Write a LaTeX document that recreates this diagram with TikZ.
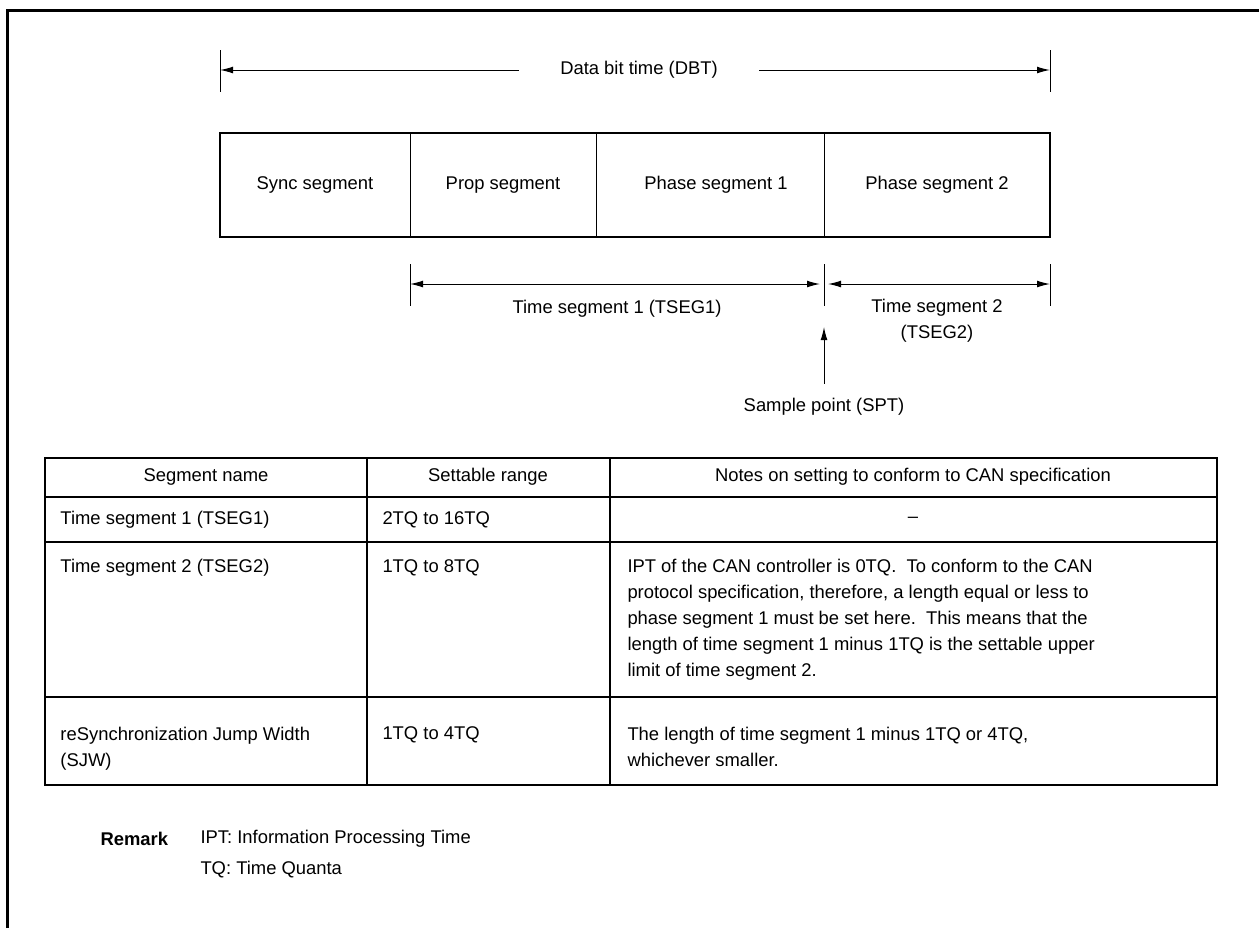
\documentclass[tikz,border=0pt]{standalone}
\usepackage{fontspec}
\setmainfont{Liberation Sans}
\usetikzlibrary{arrows.meta}
\begin{document}
\begin{tikzpicture}[x=0.5pt, y=-0.5pt, line width=0.5pt,
  every node/.style={font=\fontsize{9.2}{13}\selectfont, inner sep=0pt},
  dimline/.style={-{Latex[length=6.5pt,width=3.4pt]}},
  dimboth/.style={{Latex[length=6.5pt,width=3.4pt]}-{Latex[length=6.5pt,width=3.4pt]}},
  cell/.style={anchor=west, align=left}]
\useasboundingbox (0,0) rectangle (1259,928);
\draw[line width=1.5pt] (7,928) -- (7,10) -- (1259,10);
% data bit time
\coordinate (dbtL) at (220,70); \coordinate (dbtR) at (1050,70);
\draw (220,50) -- (220,92); \draw (1050,50) -- (1050,92);
\node[fill=white, inner xsep=20.5pt, inner ysep=2pt] (dbt) at (639,70) {Data bit time (DBT)};
\draw[dimline] (dbt) -- (dbtL);
\draw[dimline] (dbt) -- (dbtR);
% segments
\draw[line width=1.1pt] (220,133) rectangle (1050,237);
\draw (410,133) -- (410,237);
\draw (596,133) -- (596,237);
\draw (824,133) -- (824,237);
\node (sync) at (315,185) {Sync segment};
\node (prop) at (503,185) {Prop segment};
\node (ph1) at (716,185) {Phase segment 1};
\node (ph2) at (937,185) {Phase segment 2};
% time segments
\coordinate (t1L) at (410,284); \coordinate (t1R) at (824,284); \coordinate (t2R) at (1050,284);
\draw (410,264) -- (410,306); \draw (824,264) -- (824,306); \draw (1050,264) -- (1050,306);
\draw[dimboth, shorten >=2pt] (t1L) -- (t1R);
\draw[dimboth, shorten <=2pt] (t1R) -- (t2R);
\node (tseg1) at (617,309) {Time segment 1 (TSEG1)};
\node[align=center] (tseg2) at (937,321) {Time segment 2\\(TSEG2)};
% sample point
\coordinate (spt) at (824,327);
\node (sptlbl) at (824,407) {Sample point (SPT)};
\draw[dimline] ([yshift=7pt]sptlbl.north) -- (spt);
% table
\draw[line width=1.3pt] (45,458) rectangle (1217,785);
\draw[line width=1.3pt] (45,497) -- (1217,497);
\draw[line width=1pt] (45,542) -- (1217,542);
\draw[line width=1pt] (45,697) -- (1217,697);
\draw[line width=1pt] (367,458) -- (367,785);
\draw[line width=1pt] (610,458) -- (610,785);
\node (h1) at (206,477) {Segment name};
\node (h2) at (488,477) {Settable range};
\node (h3) at (913,477) {Notes on setting to conform to CAN specification};
\node[cell] (n1) at (60,520) {Time segment 1 (TSEG1)};
\node[cell] (r1) at (382,520) {2TQ to 16TQ};
\node (c1) at (913,520) {--};
\node[cell] (n2) at (60,568) {Time segment 2 (TSEG2)};
\node[cell] (r2) at (382,568) {1TQ to 8TQ};
\node[cell, anchor=north west] (c2) at (627,559) {IPT of the CAN controller is 0TQ.\ \ To conform to the CAN\\protocol specification, therefore, a length equal or less to\\phase segment 1 must be set here.\ \ This means that the\\length of time segment 1 minus 1TQ is the settable upper\\limit of time segment 2.};
\node[cell, anchor=north west] (n3) at (60,727) {reSynchronization Jump Width\\(SJW)};
\node[cell] (r3) at (382,735) {1TQ to 4TQ};
\node[cell, anchor=north west] (c3) at (627,727) {The length of time segment 1 minus 1TQ or 4TQ,\\whichever smaller.};
% remark
\node[anchor=west, font=\fontsize{9.2}{13}\selectfont\bfseries] (rem) at (100,839) {Remark};
\node[anchor=west] (ipt) at (200,839) {IPT: Information Processing Time};
\node[anchor=west] (tq) at (200,870) {TQ: Time Quanta};
\end{tikzpicture}
\end{document}
